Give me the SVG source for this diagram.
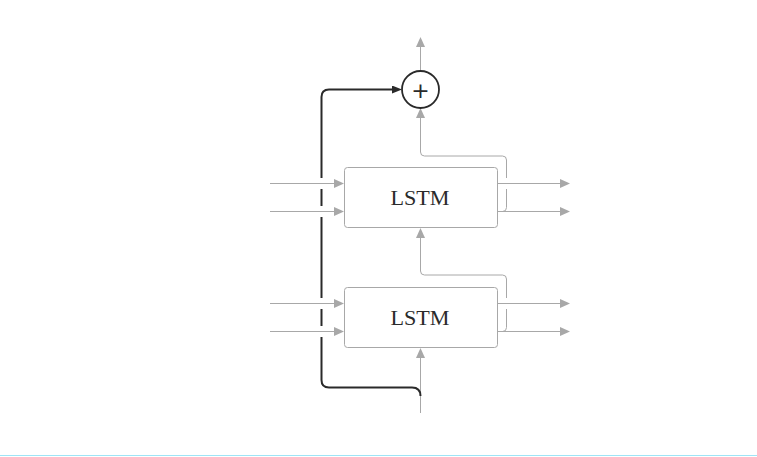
<svg xmlns="http://www.w3.org/2000/svg" width="757" height="457" viewBox="0 0 757 457">
<style>
.g{fill:none;stroke:#a8a8a8;stroke-width:1}
.k{fill:none;stroke:#2a2a2a;stroke-width:2}
.box{fill:#ffffff;stroke:#a8a8a8;stroke-width:1}
.lbl{font-family:"Liberation Serif","DejaVu Serif",serif;font-size:20px;fill:#2a2a2a;text-anchor:middle}
</style>
<defs>
<marker id="ag" viewBox="0 0 10 9" refX="0" refY="4.5" markerWidth="10" markerHeight="9" orient="auto" markerUnits="userSpaceOnUse"><path d="M0,0 L10,4.5 L0,9 z" fill="#a8a8a8"/></marker>
<marker id="ak" viewBox="0 0 10 8" refX="0" refY="4" markerWidth="10" markerHeight="8" orient="auto" markerUnits="userSpaceOnUse"><path d="M0,0 L10,4 L0,8 z" fill="#2a2a2a"/></marker>
</defs>
<rect width="757" height="457" fill="#ffffff"/>
<rect x="0" y="455" width="757" height="1" fill="#9fe4f6"/>
<g id="connectors">
<path class="g" d="M270 183.5 H334" marker-end="url(#ag)"/>
<path class="g" d="M270 211.5 H334" marker-end="url(#ag)"/>
<path class="g" d="M270 303.5 H334" marker-end="url(#ag)"/>
<path class="g" d="M270 331.5 H334" marker-end="url(#ag)"/>
<path class="g" d="M497.5 183.5 H560" marker-end="url(#ag)"/>
<path class="g" d="M497.5 211.5 H560" marker-end="url(#ag)"/>
<path class="g" d="M497.5 303.5 H560" marker-end="url(#ag)"/>
<path class="g" d="M497.5 331.5 H560" marker-end="url(#ag)"/>
<path class="g" d="M420.5 71 V47" marker-end="url(#ag)"/>
<path class="g" d="M497.5 211.5 H502.5 Q506.5 211.5 506.5 207.5 V189 M506.5 178 V160 Q506.5 156 502.5 156 H424.5 Q420.5 156 420.5 152 V118" marker-end="url(#ag)"/>
<path class="g" d="M497.5 331.5 H502.5 Q506.5 331.5 506.5 327.5 V309 M506.5 298 V279 Q506.5 275 502.5 275 H424.5 Q420.5 275 420.5 271 V238" marker-end="url(#ag)"/>
<path class="g" d="M420.5 413 V358" marker-end="url(#ag)"/>
<path class="k" d="M420.5 396 Q420.5 387.5 412 387.5 H329 Q321.5 387.5 321.5 380 V337 M321.5 326 V309 M321.5 298 V217 M321.5 206 V189 M321.5 178 V97 Q321.5 89.5 329 89.5 H392" marker-end="url(#ak)"/>
</g>
<g id="sum">
<circle cx="420.5" cy="89.5" r="18.5" fill="#ffffff" stroke="#2a2a2a" stroke-width="1.8"/>
<text x="420.5" y="98" font-family="'DejaVu Sans','Liberation Sans',sans-serif" font-size="22" fill="#2a2a2a" text-anchor="middle">+</text>
</g>
<g id="lstm2">
<rect class="box" x="344.5" y="167.5" width="153" height="60" rx="3"/>
<text class="lbl" x="420" y="204.5" textLength="59" lengthAdjust="spacingAndGlyphs">LSTM</text>
</g>
<g id="lstm1">
<rect class="box" x="344.5" y="287.5" width="153" height="60" rx="3"/>
<text class="lbl" x="420" y="325" textLength="59" lengthAdjust="spacingAndGlyphs">LSTM</text>
</g>
</svg>
